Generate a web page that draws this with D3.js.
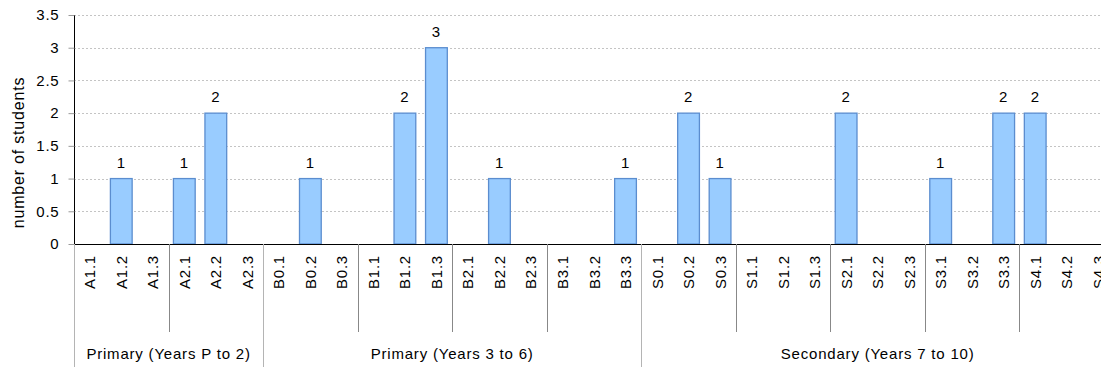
<!DOCTYPE html>
<html>
<head>
<meta charset="utf-8">
<script src="https://cdn.jsdelivr.net/npm/d3@7"></script>
<style>
  html, body { margin: 0; padding: 0; background: #fff; }
  svg { display: block; font-family: "Liberation Sans", Arial, Helvetica, sans-serif; }
  svg text { letter-spacing: 0.8px; }
</style>
</head>
<body>
<svg id="chart" width="1101" height="367"></svg>
<script>
// Student counts per sub-category
const categories = [
  "A1.1","A1.2","A1.3","A2.1","A2.2","A2.3",
  "B0.1","B0.2","B0.3","B1.1","B1.2","B1.3",
  "B2.1","B2.2","B2.3","B3.1","B3.2","B3.3",
  "S0.1","S0.2","S0.3","S1.1","S1.2","S1.3",
  "S2.1","S2.2","S2.3","S3.1","S3.2","S3.3",
  "S4.1","S4.2","S4.3"
];
const values = [
  0,1,0, 1,2,0,
  0,1,0, 0,2,3,
  0,1,0, 0,0,1,
  0,2,1, 0,0,0,
  2,0,0, 1,0,2,
  2,0,0
];
// Groups of three sub-categories (e.g. A1.x) and the school levels they belong to
const groupStarts = ["A1.1","A2.1","B0.1","B1.1","B2.1","B3.1","S0.1","S1.1","S2.1","S3.1","S4.1"];
const levels = [
  { label: "Primary (Years P to 2)", first: "A1.1", last: "A2.3" },
  { label: "Primary (Years 3 to 6)", first: "B0.1", last: "B3.3" },
  { label: "Secondary (Years 7 to 10)", first: "S0.1", last: "S4.3" }
];
const yTicks = [0, 0.5, 1, 1.5, 2, 2.5, 3, 3.5];

const svg = d3.select("#chart");
const margin = { left: 74, top: 15 };
const plotW = 1040, plotH = 229;
const H = 367;

const x = d3.scaleBand().domain(categories).range([margin.left, margin.left + plotW]).paddingInner(0.31).paddingOuter(0.155);
const y = d3.scaleLinear().domain([0, 3.5]).range([margin.top + plotH, margin.top]);
const step = x.step();
const catLeft = c => margin.left + categories.indexOf(c) * step;
const catRight = c => catLeft(c) + step;
const y0 = y(0);

// gridlines
svg.append("g").selectAll("line").data(yTicks.filter(d => d > 0)).join("line")
  .attr("x1", margin.left).attr("x2", margin.left + plotW)
  .attr("y1", d => Math.round(y(d)) + 0.5).attr("y2", d => Math.round(y(d)) + 0.5)
  .attr("stroke", "#c4c4c4").attr("stroke-width", 1).attr("stroke-dasharray", "2,2");

// bars
const barData = categories.map((c, i) => ({ c, v: values[i] })).filter(d => d.v > 0);
svg.append("g").selectAll("rect").data(barData).join("rect")
  .attr("x", d => x(d.c)).attr("width", x.bandwidth())
  .attr("y", d => y(d.v)).attr("height", d => y0 - y(d.v))
  .attr("fill", "#99ccff").attr("stroke", "#5b8dcf").attr("stroke-width", 1.3);

// value labels
svg.append("g").selectAll("text").data(barData).join("text")
  .attr("x", d => x(d.c) + x.bandwidth() / 2).attr("y", d => y(d.v) - 11)
  .attr("text-anchor", "middle").attr("font-size", 15).attr("fill", "#000")
  .text(d => d.v);

// y axis
const yAxis = d3.axisLeft(y).tickValues(yTicks).tickSize(6).tickPadding(9).tickFormat(d3.format("~g"));
const gy = svg.append("g").attr("transform", `translate(${margin.left + 0.5},0)`).call(yAxis);
gy.select(".domain").attr("stroke", "#000").attr("d", `M0,${margin.top}V${y0}`);
gy.selectAll(".tick line").attr("stroke", "#999");
gy.selectAll(".tick text").attr("font-size", 15).attr("font-family", "Liberation Sans, Arial, sans-serif").attr("fill", "#000");

// x baseline
svg.append("line").attr("x1", margin.left).attr("x2", margin.left + plotW)
  .attr("y1", Math.round(y0) + 0.5).attr("y2", Math.round(y0) + 0.5).attr("stroke", "#000");

// category labels (rotated)
svg.append("g").selectAll("text").data(categories).join("text")
  .attr("transform", d => `translate(${x(d) + x.bandwidth() / 2 + 5.5},${y0 + 11}) rotate(-90)`)
  .attr("text-anchor", "end").attr("font-size", 15).attr("fill", "#000")
  .text(d => d);

// group dividers
const levelStarts = levels.map(l => l.first);
svg.append("g").selectAll("line").data(groupStarts.filter(g => !levelStarts.includes(g))).join("line")
  .attr("x1", d => Math.round(catLeft(d)) + 0.5).attr("x2", d => Math.round(catLeft(d)) + 0.5)
  .attr("y1", y0).attr("y2", 332).attr("stroke", "#888");

// level dividers (full height)
svg.append("g").selectAll("line").data(levelStarts).join("line")
  .attr("x1", d => Math.round(catLeft(d)) + 0.5).attr("x2", d => Math.round(catLeft(d)) + 0.5)
  .attr("y1", y0).attr("y2", H).attr("stroke", "#b4b4b4");

// level labels
svg.append("g").selectAll("text").data(levels).join("text")
  .attr("x", d => (catLeft(d.first) + catRight(d.last)) / 2).attr("y", 359)
  .attr("text-anchor", "middle").attr("font-size", 15).attr("fill", "#000")
  .text(d => d.label);

// y axis title
svg.append("text").attr("transform", `translate(24,${(margin.top + y0) / 2 + 23}) rotate(-90)`)
  .attr("text-anchor", "middle").attr("font-size", 16).attr("fill", "#000")
  .text("number of students");
</script>
</body>
</html>
